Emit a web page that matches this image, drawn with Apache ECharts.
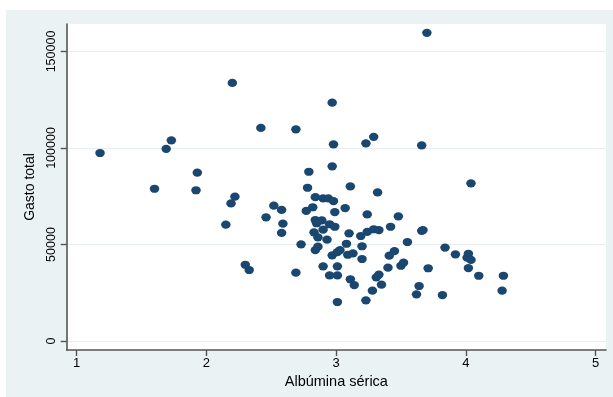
<!DOCTYPE html>
<html>
<head>
<meta charset="utf-8">
<script src="https://cdn.jsdelivr.net/npm/echarts@6/dist/echarts.min.js"></script>
<style>
html,body{margin:0;padding:0;background:#ffffff;width:613px;height:397px;overflow:hidden;}
#chart{position:absolute;left:6px;top:10px;width:607px;height:387px;}
</style>
</head>
<body>
<div id="chart"></div>
<script>
// Albúmina sérica (x) values
const albumina = [
  1.18, 1.60, 1.69, 1.73, 1.92, 1.93, 2.15, 2.19, 2.20, 2.22,
  2.30, 2.33, 2.42, 2.46, 2.52, 2.58, 2.59, 2.58, 2.69, 2.69,
  2.73, 2.78, 2.79, 2.77, 2.82, 2.84, 2.84, 2.85, 2.83, 2.86,
  2.86, 2.84, 2.89, 2.90, 2.90, 2.94, 2.98, 2.95, 2.99, 2.93,
  2.99, 2.97, 2.98, 2.97, 2.90, 2.95, 2.97, 3.01, 3.03, 3.01,
  3.01, 3.01, 3.07, 3.08, 3.09, 3.13, 3.10, 3.11, 3.11, 3.14,
  3.19, 3.20, 3.20, 3.23, 3.24, 3.24, 3.23, 3.28, 3.29, 3.29,
  3.33, 3.32, 3.33, 3.31, 3.35, 3.40, 3.41, 3.42, 3.45, 3.48,
  3.50, 3.52, 3.55, 3.62, 3.64, 3.66, 3.67, 3.66, 3.70, 3.71,
  3.82, 3.84, 3.92, 4.02, 4.01, 4.04, 4.02, 4.04, 4.10, 4.29,
  4.28
];
// Gasto total (y) values
const gasto = [
  97400, 78900, 99600, 104000, 78100, 87200, 60300, 71300, 133700, 74800,
  39500, 36800, 110400, 64100, 70100, 67900, 60800, 56000, 109700, 35400,
  50100, 79400, 87700, 67400, 69300, 74500, 62700, 61000, 56300, 53700,
  48900, 47100, 62500, 57700, 73900, 73900, 72500, 60500, 59200, 52500,
  66800, 123500, 101900, 90500, 38700, 34000, 44400, 46100, 47100, 38700,
  34000, 20200, 68900, 50400, 44700, 45400, 55800, 80100, 32000, 29000,
  54400, 49100, 42500, 102400, 65600, 56500, 21100, 26100, 105800, 57900,
  57500, 77000, 34400, 33000, 29200, 38000, 44200, 59200, 46600, 64600,
  39000, 40600, 51300, 24200, 28500, 57100, 57500, 101400, 159700, 37700,
  23800, 48400, 44900, 45200, 43200, 42000, 37800, 81700, 33800, 33800,
  26100
];
const xTicks = [1, 2, 3, 4, 5];
const yTicks = [0, 50000, 100000, 150000];
const xTitle = 'Albúmina sérica';
const yTitle = 'Gasto total';

const points = albumina.map((x, i) => [x, gasto[i]]);
const font = '"Liberation Sans", Arial, Helvetica, sans-serif';
const axisColor = '#555555';

const chart = echarts.init(document.getElementById('chart'), null, {renderer: 'canvas'});
chart.setOption({
  backgroundColor: '#eaf2f3',
  animation: false,
  grid: {
    left: 60.7, top: 14, right: 7, bottom: 47,
    show: true, backgroundColor: '#ffffff', borderWidth: 0
  },
  xAxis: {
    type: 'value',
    min: 0.923, max: 5.081,
    name: xTitle, nameLocation: 'middle', nameGap: 21,
    nameTextStyle: {fontFamily: font, fontSize: 14.5, color: '#000'},
    axisLine: {show: true, onZero: false, lineStyle: {color: axisColor, width: 1.6}},
    axisTick: {show: true, length: 6, customValues: xTicks, lineStyle: {color: axisColor, width: 1.4}},
    axisLabel: {customValues: xTicks, margin: 7, fontFamily: font, fontSize: 13, color: '#000',
      formatter: v => String(v)},
    splitLine: {show: false}
  },
  yAxis: {
    type: 'value',
    min: -4660, max: 164250,
    name: yTitle, nameLocation: 'middle', nameGap: 27,
    nameTextStyle: {fontFamily: font, fontSize: 14, color: '#000'},
    axisLine: {show: true, onZero: false, lineStyle: {color: axisColor, width: 1.6}},
    axisTick: {show: true, length: 6, customValues: yTicks, lineStyle: {color: axisColor, width: 1.4}},
    axisLabel: {customValues: yTicks, rotate: 90, margin: 9, fontFamily: font, fontSize: 12.5, color: '#000',
      formatter: v => String(Math.round(v))},
    splitLine: {show: true, lineStyle: {color: '#e6eef1', width: 1.2}}
  },
  series: [{
    type: 'scatter',
    data: points,
    symbol: 'circle',
    symbolSize: [9.5, 8.2],
    itemStyle: {color: '#1a476f', opacity: 1},
    emphasis: {disabled: true}
  }]
});
</script>
</body>
</html>
